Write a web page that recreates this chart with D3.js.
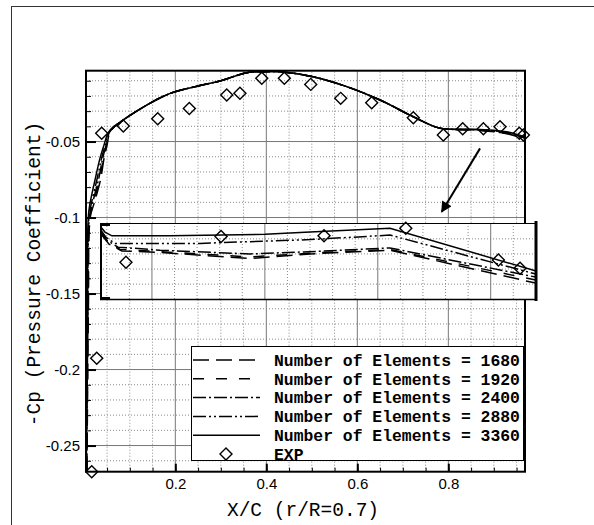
<!DOCTYPE html>
<meta charset="utf-8">
<style>
body { margin: 0; background: #fff; }
.axis path.domain { display: none; }
.axis text { font-family: "Liberation Sans", Arial, sans-serif; font-size: 15px; fill: #000; }
.major line { stroke: #000; stroke-width: 2px; }
.minor line { stroke: #000; stroke-width: 1px; }
.gridMinor { stroke: #8a8a8a; stroke-width: 1px; stroke-dasharray: 1,2; }
.gridMajor { stroke: #777; stroke-width: 1px; }
.curve { fill: none; stroke: #000; stroke-width: 1.5px; }
.exp { fill: none; stroke: #000; stroke-width: 1.4px; }
.legend text { font-family: "Liberation Mono", "Courier New", monospace; font-weight: bold; font-size: 16.4px; }
.label { font-family: "Liberation Mono", "Courier New", monospace; font-size: 19.5px; }
</style>
<svg width="594" height="525"></svg>
<script src="https://d3js.org/d3.v7.min.js"></script>
<script>

// ---- data ----
var elements = ["1680", "1920", "2400", "2880", "3360"];

var lead1680 = [[0.006,-0.267],[0.007,-0.22],[0.009,-0.16],[0.0132,-0.0995],[0.0215,-0.0907],[0.0355,-0.0753],[0.0435,-0.0609],[0.05,-0.0523],[0.0555,-0.0444],[0.0655,-0.0405],[0.076,-0.038]];
var lead1920 = [[0.0056,-0.267],[0.0066,-0.22],[0.0085,-0.16],[0.0122,-0.0995],[0.0198,-0.0907],[0.0335,-0.0753],[0.042,-0.0609],[0.049,-0.0523],[0.055,-0.0444],[0.065,-0.0405],[0.0758,-0.038]];
var lead2400 = [[0.0053,-0.267],[0.0062,-0.22],[0.008,-0.16],[0.0112,-0.0995],[0.0178,-0.0907],[0.031,-0.0753],[0.0405,-0.0609],[0.048,-0.0523],[0.0545,-0.0444],[0.0645,-0.0405],[0.0755,-0.038]];
var lead2880 = [[0.005,-0.267],[0.0058,-0.22],[0.0075,-0.16],[0.0102,-0.0995],[0.0155,-0.0907],[0.0275,-0.0753],[0.038,-0.0609],[0.046,-0.0523],[0.0535,-0.0444],[0.064,-0.0405],[0.0752,-0.038]];
var lead3360 = [[0.0045,-0.267],[0.005,-0.22],[0.0065,-0.16],[0.0088,-0.0995],[0.0125,-0.0907],[0.0235,-0.0753],[0.0345,-0.0609],[0.0433,-0.0523],[0.0521,-0.0444],[0.0631,-0.0405],[0.0747,-0.038]];

// all meshes agree over the middle of the chord
var midChord = [[0.1187,-0.0293],[0.1846,-0.0188],[0.2433,-0.0139],[0.30,-0.0100],[0.357,-0.0047],[0.39,-0.0041],[0.43,-0.0041],[0.5026,-0.0074],[0.5767,-0.0139],[0.65,-0.0227],[0.723,-0.0337],[0.7745,-0.0407],[0.7965,-0.0418]];

var tail1680 = [[0.8697,-0.0427],[0.928,-0.0449],[0.968,-0.0483]];
var tail1920 = [[0.8697,-0.0425],[0.928,-0.0446],[0.968,-0.0480]];
var tail2400 = [[0.8697,-0.0424],[0.928,-0.0443],[0.968,-0.0477]];
var tail2880 = [[0.8697,-0.0422],[0.928,-0.0440],[0.968,-0.0474]];
var tail3360 = [[0.8697,-0.0420],[0.928,-0.0436],[0.968,-0.0470]];

var expX  = [0.0163,0.0273,0.0382,0.0857,0.1613,0.2308,0.313,0.342,0.390,0.4396,0.4976,0.5635,0.6316,0.723,0.789,0.8316,0.877,0.9136,0.956,0.965];
var expCp = [-0.2672,-0.1926,-0.0446,-0.0398,-0.035,-0.0282,-0.0194,-0.0183,-0.0084,-0.0084,-0.0124,-0.0216,-0.0245,-0.0343,-0.0457,-0.0416,-0.0416,-0.0403,-0.0446,-0.0457];

// zoomed inset
var inset1680 = [[0.027,-0.0512],[0.031,-0.0527],[0.0367,-0.0536],[0.0536,-0.0538],[0.0934,-0.0546],[0.120,-0.0540],[0.1554,-0.0535],[0.2205,-0.0579]];
var inset1920 = [[0.027,-0.0510],[0.0305,-0.0524],[0.0359,-0.0534],[0.0536,-0.0537],[0.0934,-0.0544],[0.120,-0.0539],[0.1554,-0.0534],[0.2205,-0.0575]];
var inset2400 = [[0.027,-0.0509],[0.0301,-0.0522],[0.035,-0.0531],[0.0536,-0.0535],[0.0934,-0.0540],[0.120,-0.0537],[0.1554,-0.0532],[0.2205,-0.0571]];
var inset2880 = [[0.027,-0.0507],[0.0297,-0.0518],[0.0336,-0.0526],[0.0713,-0.0526],[0.120,-0.0521],[0.1554,-0.0515],[0.2205,-0.0567]];
var inset3360 = [[0.027,-0.0503],[0.0292,-0.0511],[0.0323,-0.0516],[0.058,-0.0516],[0.1001,-0.0514],[0.120,-0.0511],[0.1554,-0.0506],[0.2205,-0.0563]];
var insetExpX  = [0.0385,0.0806,0.1262,0.1624,0.2034,0.213];
var insetExpCp = [-0.0551,-0.0517,-0.0516,-0.0506,-0.0548,-0.0559];

var xMajor = [0.2, 0.4, 0.6, 0.8];
var yMajor = [-0.25, -0.2, -0.15, -0.1, -0.05];
var insetXMajor = [0.05, 0.1, 0.15, 0.2];

// ---- styles ----
var dashes = ["16,7", "11,12", "13,3,2,3", "13,3,2,3,2,3", null];

var svg = d3.select("svg");

// outer frame
svg.append("rect").attr("x", 11.5).attr("y", 6.5).attr("width", 700).attr("height", 700)
    .attr("fill", "none").attr("stroke", "#333");

var x = d3.scaleLinear().domain([0.0037, 0.9685]).range([86, 525]);
var y = d3.scaleLinear().domain([-0.2672, -0.0034]).range([471.7, 70.7]);

var line = d3.line().x(function(d) { return x(d[0]); }).y(function(d) { return y(d[1]); })
    .curve(d3.curveCatmullRom.alpha(0.5));

// grid
var grid = svg.append("g");
grid.selectAll(".vx").data(x.ticks(20).filter(function(t) { return xMajor.indexOf(+t.toFixed(2)) < 0; }))
  .enter().append("line").attr("class", "gridMinor")
    .attr("x1", x).attr("x2", x).attr("y1", y.range()[0]).attr("y2", y.range()[1]);
grid.selectAll(".hy").data(y.ticks(25).filter(function(t) { return yMajor.indexOf(+t.toFixed(2)) < 0; }))
  .enter().append("line").attr("class", "gridMinor")
    .attr("y1", y).attr("y2", y).attr("x1", x.range()[0]).attr("x2", x.range()[1]);
grid.selectAll(".vxm").data(xMajor).enter().append("line").attr("class", "gridMajor")
    .attr("x1", x).attr("x2", x).attr("y1", y.range()[0]).attr("y2", y.range()[1]);
grid.selectAll(".hym").data(yMajor).enter().append("line").attr("class", "gridMajor")
    .attr("y1", y).attr("y2", y).attr("x1", x.range()[0]).attr("x2", x.range()[1]);

// curves
var series = [
  lead1680.concat(midChord, tail1680),
  lead1920.concat(midChord, tail1920),
  lead2400.concat(midChord, tail2400),
  lead2880.concat(midChord, tail2880),
  lead3360.concat(midChord, tail3360)
];
svg.append("g").selectAll("path").data(series).enter().append("path")
    .attr("class", "curve")
    .attr("d", line)
    .attr("stroke-dasharray", function(d, i) { return dashes[i]; });

var diamond = d3.symbol().type(d3.symbolSquare).size(72);
svg.append("g").selectAll("path").data(expX).enter().append("path")
    .attr("class", "exp")
    .attr("d", diamond)
    .attr("transform", function(d, i) { return "translate(" + x(d) + "," + y(expCp[i]) + ") rotate(45)"; });

// axes
svg.append("g").attr("class", "axis minor").attr("transform", "translate(0," + y.range()[0] + ")")
    .call(d3.axisBottom(x).tickValues(x.ticks(20)).tickSize(-4).tickFormat(""));
svg.append("g").attr("class", "axis major").attr("transform", "translate(0," + y.range()[0] + ")")
    .call(d3.axisBottom(x).tickValues(xMajor).tickSize(-8).tickPadding(7).tickFormat(String));
svg.append("g").attr("class", "axis minor").attr("transform", "translate(" + x.range()[0] + ",0)")
    .call(d3.axisLeft(y).tickValues(y.ticks(25)).tickSize(-5).tickFormat(""));
svg.append("g").attr("class", "axis major").attr("transform", "translate(" + x.range()[0] + ",0)")
    .call(d3.axisLeft(y).tickValues(yMajor).tickSize(-10).tickPadding(6).tickFormat(String));

svg.append("rect")
    .attr("x", x.range()[0]).attr("y", y.range()[1])
    .attr("width", x.range()[1] - x.range()[0]).attr("height", y.range()[0] - y.range()[1])
    .attr("fill", "none").attr("stroke", "#000").attr("stroke-width", 2);

// ---- inset ----
var ix = d3.scaleLinear().domain([0.027, 0.2205]).range([100, 537]);
var iy = d3.scaleLinear().domain([-0.0601, -0.0499]).range([300, 223]);
var iline = d3.line().x(function(d) { return ix(d[0]); }).y(function(d) { return iy(d[1]); });

var inset = svg.append("g");
svg.append("clipPath").attr("id", "insetClip").append("rect")
    .attr("x", 100).attr("y", 223).attr("width", 437).attr("height", 77);
inset.append("rect").attr("x", 100).attr("y", 223).attr("width", 437).attr("height", 77).attr("fill", "#fff");
inset.selectAll(".ivx").data(ix.ticks(20).filter(function(t) { return insetXMajor.indexOf(+t.toFixed(2)) < 0; }))
  .enter().append("line").attr("class", "gridMinor")
    .attr("x1", ix).attr("x2", ix).attr("y1", 223).attr("y2", 300);
inset.selectAll(".ihy").data(iy.ticks(5).filter(function(t) { return t > -0.0595 && t < -0.0505; }))
  .enter().append("line").attr("class", "gridMinor")
    .attr("y1", iy).attr("y2", iy).attr("x1", 100).attr("x2", 537);
inset.selectAll(".ivxm").data(insetXMajor).enter().append("line").attr("class", "gridMajor")
    .attr("x1", ix).attr("x2", ix).attr("y1", 223).attr("y2", 300);

inset.append("g").attr("clip-path", "url(#insetClip)")
  .selectAll("path").data([inset1680, inset1920, inset2400, inset2880, inset3360]).enter().append("path")
    .attr("class", "curve")
    .attr("d", iline)
    .attr("stroke-dasharray", function(d, i) { return dashes[i]; });

inset.append("g").selectAll("path").data(insetExpX).enter().append("path")
    .attr("class", "exp")
    .attr("d", diamond)
    .attr("transform", function(d, i) { return "translate(" + ix(d) + "," + iy(insetExpCp[i]) + ") rotate(45)"; });

inset.append("line").attr("x1", 100).attr("x2", 537).attr("y1", 223.5).attr("y2", 223.5).attr("stroke", "#000");
inset.append("line").attr("x1", 100).attr("x2", 537).attr("y1", 299.5).attr("y2", 299.5).attr("stroke", "#000").attr("stroke-width", 1.5);
inset.append("line").attr("x1", 101).attr("x2", 101).attr("y1", 223).attr("y2", 300).attr("stroke", "#000").attr("stroke-width", 2);
inset.append("line").attr("x1", 536).attr("x2", 536).attr("y1", 221).attr("y2", 301).attr("stroke", "#000").attr("stroke-width", 3);
inset.selectAll(".itk").data([-0.05, -0.06]).enter().append("line")
    .attr("x1", 100).attr("x2", 110)
    .attr("y1", function(d) { return Math.round(iy(d)) + (d > -0.055 ? 1 : -1); })
    .attr("y2", function(d) { return Math.round(iy(d)) + (d > -0.055 ? 1 : -1); })
    .attr("stroke", "#000").attr("stroke-width", 2);

// arrow
svg.append("defs").append("marker")
    .attr("id", "head").attr("viewBox", "0 0 10 10").attr("refX", 9).attr("refY", 5)
    .attr("markerWidth", 16).attr("markerHeight", 11).attr("markerUnits", "userSpaceOnUse")
    .attr("orient", "auto")
  .append("path").attr("d", "M0,0L10,5L0,10z").attr("fill", "#000");
svg.append("line")
    .attr("x1", x(0.8697)).attr("y1", y(-0.0545))
    .attr("x2", x(0.7855)).attr("y2", y(-0.0962))
    .attr("stroke", "#000").attr("stroke-width", 2).attr("marker-end", "url(#head)");

// ---- legend ----
var legend = svg.append("g").attr("class", "legend");
legend.append("rect").attr("x", 191.5).attr("y", 346.5).attr("width", 332).attr("height", 114)
    .attr("fill", "#fff").attr("stroke", "#000");
var rows = elements.map(function(e) { return "Number of Elements = " + e; }).concat(["EXP"]);
var row = legend.selectAll(".row").data(rows).enter().append("g")
    .attr("transform", function(d, i) { return "translate(0," + (360 + i * 18.8) + ")"; });
row.filter(function(d, i) { return i < 5; }).append("line")
    .attr("x1", 193).attr("x2", 260).attr("stroke", "#000").attr("stroke-width", 1.5)
    .attr("stroke-dasharray", function(d, i) { return dashes[i]; });
row.filter(function(d, i) { return i === 5; }).append("path")
    .attr("class", "exp").attr("d", diamond).attr("transform", "translate(226,0) rotate(45)");
row.append("text").attr("x", 274).attr("dy", "0.35em").text(function(d) { return d; });

// axis titles
svg.append("text").attr("class", "label").attr("text-anchor", "middle")
    .attr("x", 303).attr("y", 516).text("X/C (r/R=0.7)");
svg.append("text").attr("class", "label").attr("text-anchor", "middle")
    .attr("transform", "translate(39.5,274) rotate(-90)").text("-Cp (Pressure Coefficient)");

</script>
